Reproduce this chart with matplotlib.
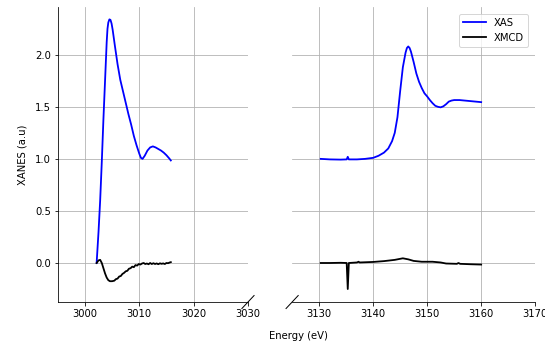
import numpy as np
import matplotlib.pyplot as plt

# XAS / XMCD, low energy part
e_lo = [3002.15, 3002.5, 3002.8, 3003.1, 3003.4, 3003.7, 3004.0, 3004.15, 3004.3, 3004.5,
        3004.7, 3004.9, 3005.1, 3005.5, 3006.0, 3006.5, 3007.0, 3007.5, 3008.0, 3008.5,
        3009.0, 3009.5, 3010.0, 3010.3, 3010.6, 3011.0, 3011.5, 3012.0, 3012.5, 3013.0,
        3013.5, 3014.0, 3014.5, 3015.0, 3015.5, 3015.8]
xas_lo = [0.0, 0.3, 0.6, 0.97, 1.38, 1.75, 2.12, 2.25, 2.31, 2.34,
          2.335, 2.3, 2.24, 2.09, 1.91, 1.76, 1.65, 1.54, 1.43, 1.33,
          1.22, 1.13, 1.05, 1.01, 1.0, 1.03, 1.08, 1.11, 1.12, 1.11,
          1.095, 1.08, 1.06, 1.035, 1.005, 0.985]

e_mcd_lo = [3002.15, 3002.5, 3002.8, 3003.1, 3003.4, 3003.7, 3004.0, 3004.3, 3004.6, 3005.0,
            3005.4, 3005.7, 3006.0, 3006.3, 3006.6, 3006.9, 3007.2, 3007.5, 3007.8, 3008.1,
            3008.4, 3008.7, 3009.0, 3009.3, 3009.6, 3009.9, 3010.2, 3010.5, 3010.8, 3011.1,
            3011.4, 3011.7, 3012.0, 3012.3, 3012.6, 3012.9, 3013.2, 3013.5, 3013.8, 3014.1,
            3014.4, 3014.7, 3015.0, 3015.3, 3015.6, 3015.8]
xmcd_lo = [0.0, 0.025, 0.03, 0.0, -0.05, -0.10, -0.14, -0.165, -0.175, -0.175,
           -0.17, -0.155, -0.15, -0.13, -0.125, -0.105, -0.095, -0.08, -0.075, -0.055,
           -0.05, -0.035, -0.04, -0.02, -0.025, -0.01, -0.015, -0.005, 0.0, -0.01,
           -0.005, -0.012, 0.0, -0.01, -0.002, -0.01, -0.004, -0.012, -0.003, -0.008,
           -0.004, -0.01, 0.0, -0.002, 0.005, 0.008]

# high energy part
e_hi = [3130.3, 3132, 3134, 3135.1, 3135.3, 3135.5, 3137, 3138.5, 3140, 3141,
        3142, 3142.8, 3143.5, 3144.0, 3144.5, 3145.0, 3145.5, 3146.0, 3146.25, 3146.5,
        3146.75, 3147.0, 3147.5, 3148.0, 3148.5, 3149.0, 3149.5, 3150.0, 3150.5, 3151.0,
        3151.5, 3152.0, 3152.5, 3153.0, 3153.5, 3154.0, 3154.5, 3155.0, 3156.0, 3157.0,
        3158.0, 3159.0, 3160.0]
xas_hi = [1.0, 0.995, 0.993, 0.995, 1.02, 0.995, 0.995, 1.0, 1.01, 1.03,
          1.06, 1.1, 1.17, 1.25, 1.4, 1.65, 1.88, 2.02, 2.065, 2.08,
          2.065, 2.03, 1.93, 1.82, 1.74, 1.68, 1.63, 1.6, 1.565, 1.535,
          1.51, 1.5, 1.495, 1.505, 1.525, 1.55, 1.56, 1.565, 1.565, 1.56,
          1.555, 1.55, 1.545]

e_mcd_hi = [3130.3, 3132, 3134, 3135.1, 3135.3, 3135.5, 3137, 3137.3, 3137.5, 3140,
            3142, 3144, 3145.5, 3146.5, 3147.5, 3149, 3151, 3152.5, 3153.5, 3155.5,
            3155.8, 3156.1, 3158, 3160]
xmcd_hi = [0.0, 0.0, 0.002, 0.0, -0.25, 0.0, 0.005, 0.012, 0.005, 0.01,
           0.018, 0.03, 0.045, 0.035, 0.02, 0.012, 0.012, 0.005, -0.005, -0.008,
           0.0, -0.008, -0.012, -0.015]

fig = plt.figure(figsize=(545 / 72, 344 / 72), dpi=72)
ax1 = fig.add_axes([0.106, 0.122, 0.349, 0.858])
ax2 = fig.add_axes([0.536, 0.122, 0.446, 0.858], sharey=ax1)

ax1.plot(e_lo, xas_lo, color='blue', lw=1.8)
ax1.plot(e_mcd_lo, xmcd_lo, color='black', lw=1.8)
ax2.plot(e_hi, xas_hi, color='blue', lw=1.8, label='XAS')
ax2.plot(e_mcd_hi, xmcd_hi, color='black', lw=1.8, label='XMCD')

ax1.set_xlim(2995, 3030)
ax2.set_xlim(3125, 3170)
ax1.set_ylim(-0.375, 2.46)
ax1.set_xticks([3000, 3010, 3020, 3030])
ax2.set_xticks([3130, 3140, 3150, 3160, 3170])
ax1.set_yticks([0.0, 0.5, 1.0, 1.5, 2.0])

for ax in (ax1, ax2):
    ax.grid(True)
    ax.spines['top'].set_visible(False)
    ax.spines['right'].set_visible(False)
ax2.spines['left'].set_visible(False)
ax2.tick_params(left=False, labelleft=False)

# break marks
kw = dict(color='k', lw=1, clip_on=False)
ax1.plot((1 - 0.032, 1 + 0.032), (-0.022, 0.022), transform=ax1.transAxes, **kw)
ax2.plot((-0.025, 0.025), (-0.022, 0.022), transform=ax2.transAxes, **kw)

ax1.set_ylabel('XANES (a.u)', labelpad=7)
fig.text(0.547, 0.023, 'Energy (eV)', ha='center', va='center')
ax2.legend(loc='upper right', handlelength=2.3, borderaxespad=0.7)

fig.savefig('out.png', dpi=72)
